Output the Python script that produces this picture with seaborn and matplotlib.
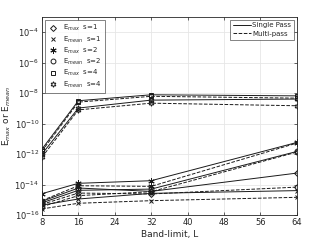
"""Error vs band-limit, single pass vs multi-pass"""
import numpy as np
import pandas as pd
import matplotlib
matplotlib.use('Agg')
import matplotlib.pyplot as plt
from matplotlib.lines import Line2D
import seaborn as sns

# Band-limits
band_limit = [8, 16, 32, 64]

# log10 of errors, single pass (solid) and multi-pass (dashed)
emax_s1_single = [-15.10, -14.23, -14.45, -13.25]
emax_s1_multi = [-15.30, -14.56, -14.62, -14.17]
emean_s1_single = [-15.35, -14.95, -14.58, -14.40]
emean_s1_multi = [-15.60, -15.23, -15.06, -14.84]
emax_s2_single = [-14.60, -13.92, -13.75, -11.24]
emax_s2_multi = [-15.05, -14.08, -14.12, -11.28]
emean_s2_single = [-15.20, -14.38, -14.30, -11.83]
emean_s2_multi = [-15.45, -14.73, -14.47, -11.87]
emax_s4_single = [-11.67, -8.50, -8.11, -8.18]
emax_s4_multi = [-11.80, -8.59, -8.21, -8.33]
emean_s4_single = [-12.00, -8.98, -8.46, -8.39]
emean_s4_multi = [-12.20, -9.10, -8.66, -8.83]

series_labels = [r'E$_{max}$  s=1', r'E$_{mean}$  s=1', r'E$_{max}$  s=2',
                 r'E$_{mean}$  s=2', r'E$_{max}$  s=4', r'E$_{mean}$  s=4']
single = [emax_s1_single, emean_s1_single, emax_s2_single,
          emean_s2_single, emax_s4_single, emean_s4_single]
multi = [emax_s1_multi, emean_s1_multi, emax_s2_multi,
         emean_s2_multi, emax_s4_multi, emean_s4_multi]
markers = ['D', 'x', (6, 2, 0), 'o', 's', (6, 1, 0)]
msizes = [3.0, 3.5, 4.5, 3.5, 3.5, 4.0]

sns.set_theme(style='ticks')
plt.rcParams['font.family'] = ['DejaVu Sans']
plt.rcParams['mathtext.fontset'] = 'dejavusans'

fig = plt.figure(figsize=(3.28, 2.42), dpi=100)
ax = fig.add_axes([0.128, 0.1116, 0.777, 0.8184])

for label, mk, ms, ys, ym in zip(series_labels, markers, msizes, single, multi):
    for vals, ls in ((ys, '-'), (ym, '--')):
        df = pd.DataFrame({'L': band_limit, 'err': 10.0 ** np.array(vals)})
        sns.lineplot(data=df, x='L', y='err', ax=ax, color='k', linewidth=0.7,
                     linestyle=ls, marker=mk, markersize=ms,
                     markerfacecolor='none', markeredgecolor='k',
                     markeredgewidth=0.7, legend=False)

ax.set_yscale('log')
ax.set_xlim(8, 64)
ax.set_ylim(1e-16, 1e-3)
ax.set_xticks(np.arange(8, 65, 8))
ax.set_yticks([10.0 ** p for p in range(-16, -3, 2)])
ax.minorticks_off()
ax.grid(True, color='#e6e6e6', linewidth=0.6)
ax.tick_params(direction='in', length=2.5, width=0.5, labelsize=6,
               colors='#262626', top=True, right=True, pad=2)
for sp in ax.spines.values():
    sp.set_linewidth(0.6)
    sp.set_color('#262626')
ax.set_xlabel('Band-limit, L', fontsize=6.5, color='#262626', labelpad=2)
ax.set_ylabel(r'E$_{max}$ or E$_{mean}$', fontsize=6.5, color='#262626', labelpad=1)

mk_handles = [Line2D([], [], linestyle='none', marker=mk, markersize=ms,
                     markerfacecolor='none', markeredgecolor='k',
                     markeredgewidth=0.7)
              for mk, ms in zip(markers, msizes)]
leg1 = ax.legend(mk_handles, series_labels, loc='upper left', fontsize=5,
                 frameon=True, fancybox=False, edgecolor='#262626',
                 borderpad=0.5, labelspacing=0.15, handletextpad=0.6,
                 handlelength=1.5, borderaxespad=0.4)
leg1.get_frame().set_linewidth(0.5)
ax.add_artist(leg1)

ls_handles = [Line2D([], [], color='k', linewidth=0.7, linestyle='-'),
              Line2D([], [], color='k', linewidth=0.7, linestyle='--')]
leg2 = ax.legend(ls_handles, ['Single Pass', 'Multi-pass'], loc='upper right',
                 fontsize=5, frameon=True, fancybox=False, edgecolor='#262626',
                 borderpad=0.4, labelspacing=0.35, handletextpad=0.2,
                 handlelength=2.6, borderaxespad=0.4)
leg2.get_frame().set_linewidth(0.5)

fig.savefig('out.png', dpi=100, facecolor='white')
